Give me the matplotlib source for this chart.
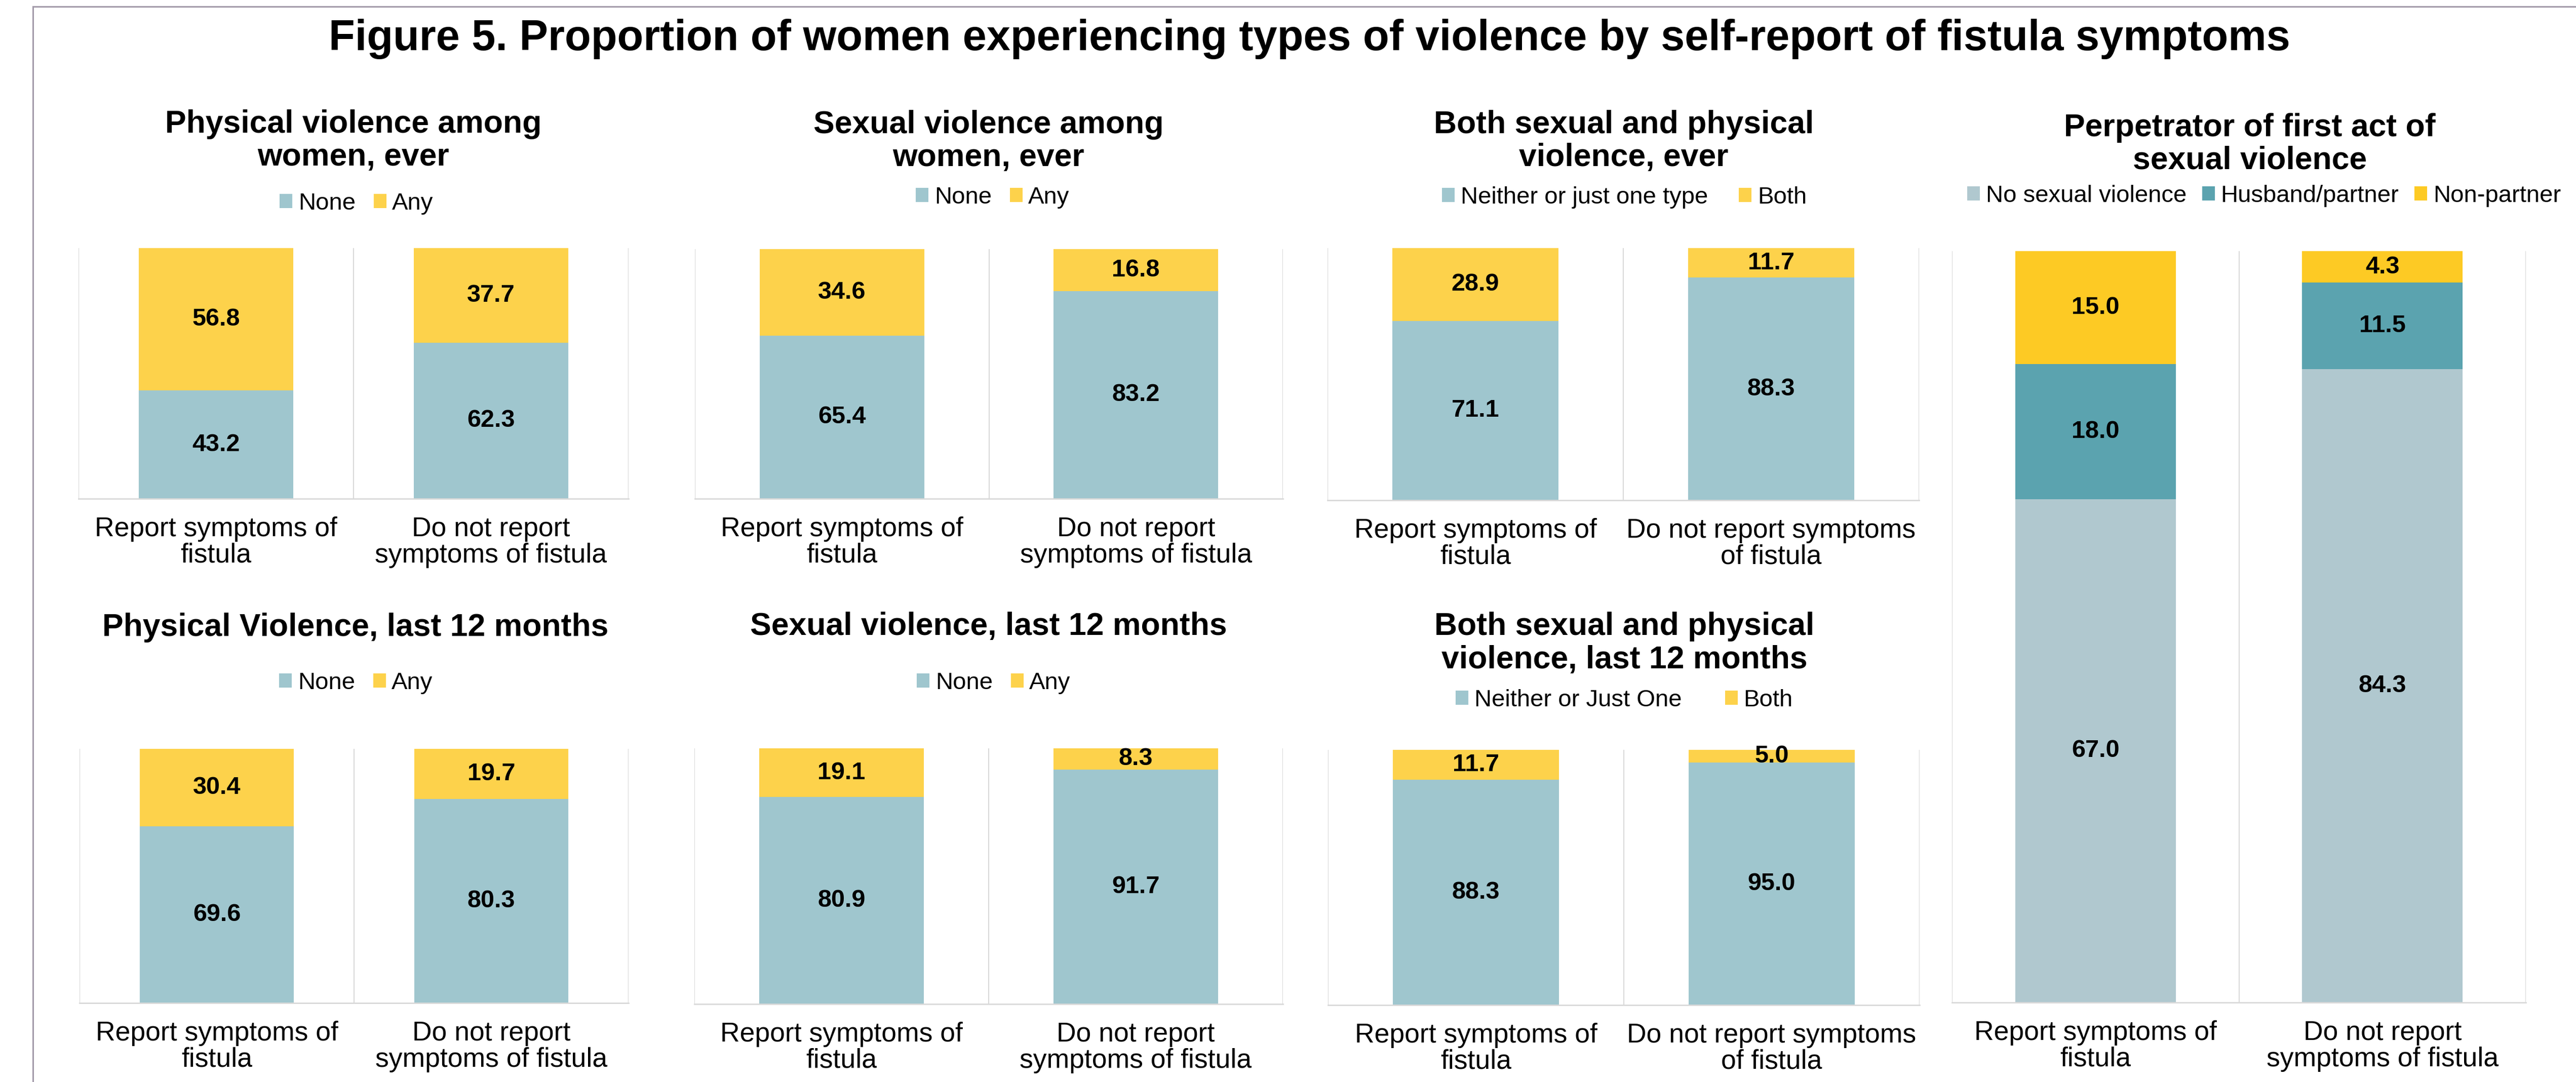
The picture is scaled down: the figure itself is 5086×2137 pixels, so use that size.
import matplotlib
matplotlib.use("Agg")
import matplotlib.pyplot as plt
from matplotlib.lines import Line2D

plt.rcParams['font.family'] = ['Liberation Sans', 'DejaVu Sans']

W, H = 5086, 2137
DPI = 100

# ---- data -------------------------------------------------------------
groups = ["Report symptoms of fistula", "Do not report symptoms of fistula"]

phys_ever_none = [43.2, 62.3]
phys_ever_any = [56.8, 37.7]

sex_ever_none = [65.4, 83.2]
sex_ever_any = [34.6, 16.8]

both_ever_neither = [71.1, 88.3]
both_ever_both = [28.9, 11.7]

phys_12m_none = [69.6, 80.3]
phys_12m_any = [30.4, 19.7]

sex_12m_none = [80.9, 91.7]
sex_12m_any = [19.1, 8.3]

both_12m_neither = [88.3, 95.0]
both_12m_both = [11.7, 5.0]

perp_none = [67.0, 84.3]
perp_partner = [18.0, 11.5]
perp_nonpartner = [15.0, 4.3]

labels_a = ["Report symptoms of\nfistula", "Do not report\nsymptoms of fistula"]
labels_b = ["Report symptoms of\nfistula", "Do not report symptoms\nof fistula"]

# ---- styling ------------------------------------------------------------
C_NONE = "#9FC6CE"
C_ANY = "#FDD24B"
C_NOSV = "#B0C8CF"
C_PARTNER = "#5BA3AF"
C_NONPARTNER = "#FDCA24"
GRID = "#D9D9D9"

TITLE_FS = 45
LEG_FS = 34
TICK_FS = 38.5
VAL_FS = 35

fig = plt.figure(figsize=(W / DPI, H / DPI), dpi=DPI)


def fx(px):
    return px / W


def fy(py):
    return 1 - py / H


def add_panel(x0, y0, x1, y1):
    return fig.add_axes([fx(x0), fy(y1), fx(x1 - x0), (y1 - y0) / H])


def panel(rect, series, names, colors, ticklabels, title_lines, title_x,
          title_ys, leg_x, leg_y, colspacing):
    ax = add_panel(*rect)
    x = range(len(groups))
    bottom = [0.0] * len(groups)
    handles = []
    for vals, name, col in zip(series, names, colors):
        bars = ax.bar(x, vals, width=0.56, bottom=bottom, color=col,
                      label=name, zorder=2)
        ax.bar_label(bars, labels=[f"{v:.1f}" for v in vals],
                     label_type="center", fontsize=VAL_FS,
                     fontweight="bold", color="black")
        bottom = [b + v for b, v in zip(bottom, vals)]
        handles.append(bars)
    ax.set_xlim(-0.5, 1.5)
    ax.set_ylim(0, 100)
    ax.set_yticks([])
    for sp in ("top", "right", "left"):
        ax.spines[sp].set_visible(False)
    ax.spines["bottom"].set_color(GRID)
    ax.spines["bottom"].set_linewidth(2)
    for xv in (-0.5, 0.5, 1.5):
        ax.axvline(xv, color=GRID, lw=1.5, zorder=1)
    ax.set_xticks(list(x))
    ax.set_xticklabels(ticklabels, fontsize=TICK_FS, linespacing=1.05)
    ax.tick_params(axis="x", length=0, pad=25)
    for t in ax.get_xticklabels():
        t.set_multialignment("center")
    for line, ty in zip(title_lines, title_ys):
        fig.text(fx(title_x), fy(ty + 22), line, ha="center", va="baseline",
                 fontsize=TITLE_FS, fontweight="bold")
    ax.legend(handles=handles, loc="center", ncol=len(handles),
              bbox_to_anchor=(fx(leg_x), fy(leg_y)),
              bbox_transform=fig.transFigure, frameon=False,
              fontsize=LEG_FS, handlelength=0.53, handleheight=0.53,
              handletextpad=0.25, columnspacing=colspacing,
              borderaxespad=0, borderpad=0)
    return ax


# Row 1
panel((155, 490, 1241, 985), [phys_ever_none, phys_ever_any],
      ["None", "Any"], [C_NONE, C_ANY], labels_a,
      ["Physical violence among", "women, ever"], 698, [240, 305],
      704, 402, 0.75)
panel((1372, 492, 2533, 985), [sex_ever_none, sex_ever_any],
      ["None", "Any"], [C_NONE, C_ANY], labels_a,
      ["Sexual violence among", "women, ever"], 1952, [241, 306],
      1960, 390, 0.75)
panel((2621, 490, 3789, 988), [both_ever_neither, both_ever_both],
      ["Neither or just one type", "Both"], [C_NONE, C_ANY], labels_b,
      ["Both sexual and physical", "violence, ever"], 3206, [241, 306],
      3207, 390, 1.3)

# Right column, full height
panel((3854, 496, 4987, 1980), [perp_none, perp_partner, perp_nonpartner],
      ["No sexual violence", "Husband/partner", "Non-partner"],
      [C_NOSV, C_PARTNER, C_NONPARTNER], labels_a,
      ["Perpetrator of first act of", "sexual violence"], 4442, [247, 311],
      4470, 387, 0.65)

# Row 2
panel((157, 1479, 1241, 1981), [phys_12m_none, phys_12m_any],
      ["None", "Any"], [C_NONE, C_ANY], labels_a,
      ["Physical Violence, last 12 months"], 702, [1234],
      703, 1349, 0.75)
panel((1371, 1478, 2533, 1983), [sex_12m_none, sex_12m_any],
      ["None", "Any"], [C_NONE, C_ANY], labels_a,
      ["Sexual violence, last 12 months"], 1952, [1232],
      1962, 1349, 0.75)
panel((2622, 1481, 3790, 1985), [both_12m_neither, both_12m_both],
      ["Neither or Just One", "Both"], [C_NONE, C_ANY], labels_b,
      ["Both sexual and physical", "violence, last 12 months"], 3207,
      [1232, 1298], 3207, 1383, 1.8)

# Figure title
fig.text(fx(2585), fy(99),
         "Figure 5. Proportion of women experiencing types of violence by "
         "self-report of fistula symptoms",
         ha="center", va="baseline", fontsize=61, fontweight="bold")

# Frame lines along the top and left edges
BORDER = "#A39BAA"
fig.add_artist(Line2D([fx(65), fx(65)], [fy(13), 0], color=BORDER, lw=2.2,
                      transform=fig.transFigure))
fig.add_artist(Line2D([fx(65), 1], [fy(13), fy(13)], color=BORDER, lw=2.2,
                      transform=fig.transFigure))

fig.savefig("out.png", dpi=DPI, facecolor="white")
